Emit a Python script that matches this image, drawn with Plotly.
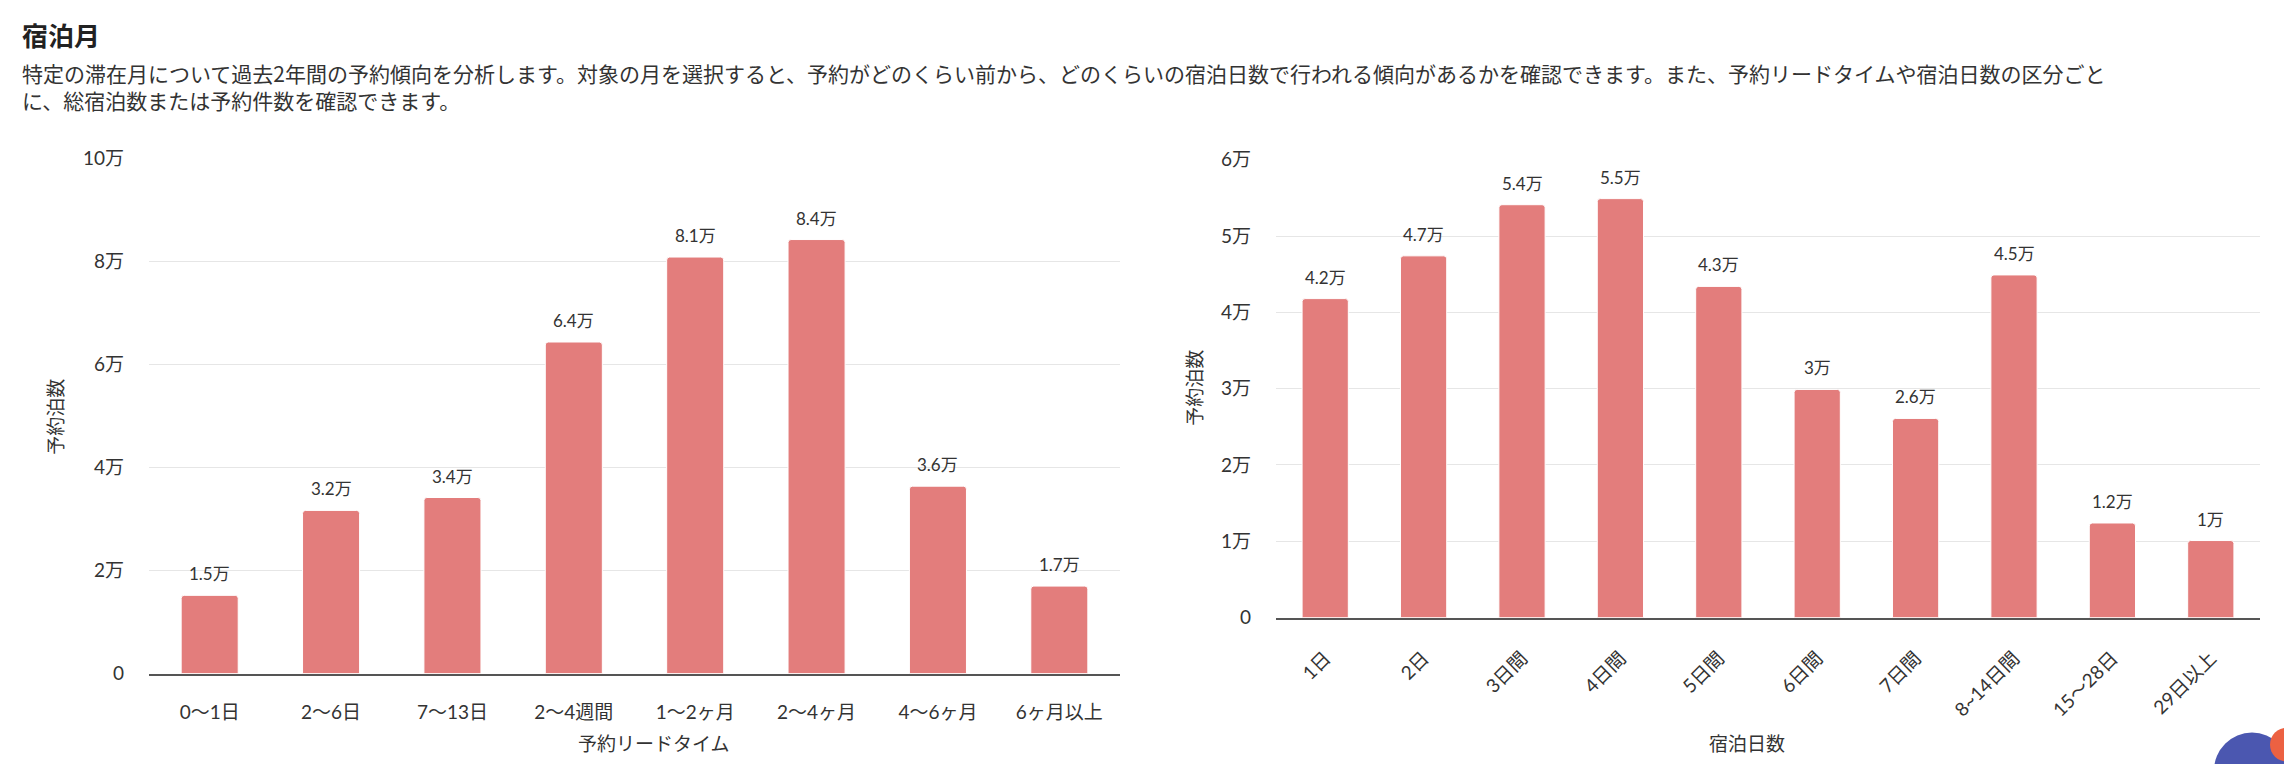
import plotly.graph_objects as go

W, H = 2284, 764  # window size used to place things in paper units

# --- data ---
lead_cats = ["0〜1日", "2〜6日", "7〜13日", "2〜4週間", "1〜2ヶ月", "2〜4ヶ月", "4〜6ヶ月", "6ヶ月以上"]
lead_vals = [15200, 31700, 34200, 64400, 80900, 84300, 36400, 17000]
lead_tickvals = [0, 20000, 40000, 60000, 80000, 100000]
lead_ticktext = ["0", "2万", "4万", "6万", "8万", "10万"]

stay_cats = ["1日", "2日", "3日間", "4日間", "5日間", "6日間", "7日間", "8~14日間", "15〜28日", "29日以上"]
stay_vals = [41800, 47400, 54100, 54900, 43400, 29900, 26100, 44900, 12400, 10100]
stay_tickvals = [0, 10000, 20000, 30000, 40000, 50000, 60000]
stay_ticktext = ["0", "1万", "2万", "3万", "4万", "5万", "6万"]

BAR = "#E37D7C"
FONT = "Lato, 'Noto Sans CJK JP', sans-serif"
JP = "'Noto Sans CJK JP', Lato, sans-serif"


def man(v):
    n = round(v / 10000, 1)
    return f"{n:g}万"


def px(x):
    return x / W


def py(y):
    # pixel row (from top) -> paper fraction, with a small correction for the
    # vertical squeeze seen in the rendered screenshot
    y = (y - 11.3) / 0.97
    return (H - y) / H


fig = go.Figure()
fig.add_trace(go.Bar(
    x=lead_cats, y=lead_vals, xaxis="x", yaxis="y",
    marker=dict(color=BAR, cornerradius=3, line=dict(color="#ffffff", width=1)),
    hoverinfo="x+y", showlegend=False,
))
fig.add_trace(go.Bar(
    x=stay_cats, y=stay_vals, xaxis="x2", yaxis="y2",
    marker=dict(color=BAR, cornerradius=3, line=dict(color="#ffffff", width=1)),
    hoverinfo="x+y", showlegend=False,
))

annotations = []
for c, v in zip(lead_cats, lead_vals):
    annotations.append(dict(x=c, y=v, xref="x", yref="y", text=man(v), showarrow=False,
                            xanchor="center", yanchor="bottom", yshift=9,
                            font=dict(family=FONT, size=17, color="#333")))
for c, v in zip(stay_cats, stay_vals):
    annotations.append(dict(x=c, y=v, xref="x2", yref="y2", text=man(v), showarrow=False,
                            xanchor="center", yanchor="bottom", yshift=9,
                            font=dict(family=FONT, size=17, color="#333")))

# title + description
annotations += [
    dict(xref="paper", yref="paper", x=px(20), y=py(34), xanchor="left", yanchor="middle",
         text="<b>宿泊月</b>", showarrow=False, font=dict(family=JP, size=26, color="#222")),
    dict(xref="paper", yref="paper", x=px(20), y=py(86), xanchor="left", yanchor="middle",
         align="left", showarrow=False,
         text=("特定の滞在月について過去2年間の予約傾向を分析します。対象の月を選択すると、"
               "予約がどのくらい前から、どのくらいの宿泊日数で行われる傾向があるかを確認できます。"
               "また、予約リードタイムや宿泊日数の区分ごと<br>に、総宿泊数または予約件数を確認できます。"),
         font=dict(family=JP, size=21, color="#333")),
    # axis titles
    dict(xref="paper", yref="paper", x=px(55), y=py(416), xanchor="center", yanchor="middle",
         textangle=-90, showarrow=False,
         text="予約泊数", font=dict(family=JP, size=19, color="#333")),
    dict(xref="paper", yref="paper", x=px(1194), y=py(387), xanchor="center", yanchor="middle",
         textangle=-90, showarrow=False,
         text="予約泊数", font=dict(family=JP, size=19, color="#333")),
    dict(xref="paper", yref="paper", x=px(654), y=py(742), xanchor="center", yanchor="middle",
         showarrow=False,
         text="予約リードタイム", font=dict(family=JP, size=19, color="#333")),
    dict(xref="paper", yref="paper", x=px(1747), y=py(742), xanchor="center", yanchor="middle",
         showarrow=False,
         text="宿泊日数", font=dict(family=JP, size=19, color="#333")),
]

# chat widget peeking in at the bottom right corner
shapes = [
    dict(type="circle", xref="paper", yref="paper", x0=px(2214), x1=px(2290),
         y0=py(808), y1=py(732), fillcolor="#4B57B0", line=dict(width=0)),
    dict(type="circle", xref="paper", yref="paper", x0=px(2270), x1=px(2304),
         y0=py(761), y1=py(727), fillcolor="#EC6142", line=dict(width=0)),
]

axis_common = dict(showgrid=False, showline=True, linecolor="#555", linewidth=2,
                   ticks="", fixedrange=True,
                   tickfont=dict(family=FONT, size=19, color="#333"))
yaxis_common = dict(showgrid=True, gridcolor="#e6e6e6", gridwidth=1, zeroline=False,
                    ticks="", ticklabelstandoff=24, fixedrange=True,
                    tickfont=dict(family=FONT, size=19, color="#333"))

fig.update_layout(
    width=W, height=H, autosize=False,
    paper_bgcolor="#ffffff", plot_bgcolor="#ffffff",
    margin=dict(l=0, r=0, t=0, b=0),
    bargap=0.53,
    xaxis=dict(domain=[px(149), px(1120)], anchor="y", type="category",
               ticklabelstandoff=21, **axis_common),
    yaxis=dict(domain=[py(673), py(158)], anchor="x", range=[0, 100000],
               tickvals=lead_tickvals, ticktext=lead_ticktext, **yaxis_common),
    xaxis2=dict(domain=[px(1276), px(2260)], anchor="y2", type="category",
                tickangle=-45, ticklabelstandoff=20, **axis_common),
    yaxis2=dict(domain=[py(617), py(159)], anchor="x2", range=[0, 60000],
                tickvals=stay_tickvals, ticktext=stay_ticktext, **yaxis_common),
    annotations=annotations,
    shapes=shapes,
    font=dict(family=FONT, color="#333"),
)

fig.write_html("out.html", config={"displayModeBar": False},
               post_script="document.body.style.margin='0';document.body.style.overflow='hidden';")
